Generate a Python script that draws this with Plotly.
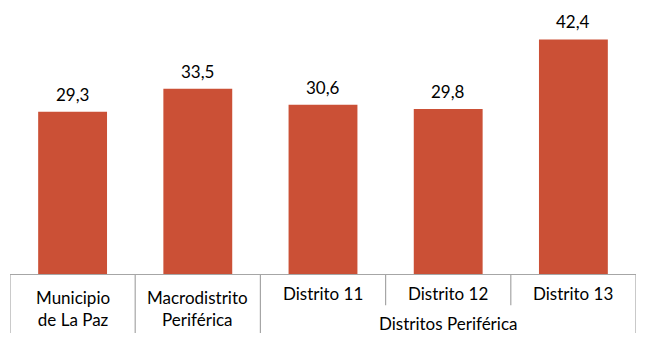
import plotly.graph_objects as go

categories = ["Municipio<br>de La Paz", "Macrodistrito<br>Periférica", "Distrito 11", "Distrito 12", "Distrito 13"]
values = [29.3, 33.5, 30.6, 29.8, 42.4]
group_label = "Distritos Periférica"
group_members = [2, 3, 4]

labels = [f"{v:.1f}".replace(".", ",") for v in values]
xs = list(range(len(values)))

FONT = "Lato, 'Open Sans', sans-serif"
BAR = "#CB5036"
LINE = "#A6A6A6"

fig = go.Figure(go.Bar(
    x=xs, y=values,
    marker=dict(color=BAR, line=dict(width=0)), cliponaxis=False, width=0.55,
))

shapes = []
for b in [-0.5, 0.5, 1.5, 4.5]:
    shapes.append(dict(type="line", xref="x", yref="paper", x0=b, x1=b, y0=0, y1=-0.237,
                       line=dict(color=LINE, width=1.2)))
for b in [2.5, 3.5]:
    shapes.append(dict(type="line", xref="x", yref="paper", x0=b, x1=b, y0=0, y1=-0.125,
                       line=dict(color=LINE, width=1.2)))

annotations = []
for i, (v, t) in enumerate(zip(values, labels)):
    annotations.append(dict(x=i, y=v, xref="x", yref="y", text=t, showarrow=False,
                            yanchor="bottom", yshift=5,
                            font=dict(size=17, family=FONT, color="#000000")))
for i, c in enumerate(categories):
    two = "<br>" in c
    annotations.append(dict(x=i, y=-0.137 if two else -0.08, xref="x", yref="paper", text=c,
                            showarrow=False, yanchor="middle", xanchor="center",
                            font=dict(size=17, family=FONT, color="#000000")))
annotations.append(dict(x=sum(group_members) / len(group_members), y=-0.197, xref="x", yref="paper",
                        text=group_label, showarrow=False, yanchor="middle",
                        font=dict(size=17, family=FONT, color="#000000")))

# page body has an 8px margin; compensate so the plot lands where the reference has it
fig.update_layout(
    width=637, height=347,
    margin=dict(l=2, r=9, t=17, b=81),
    paper_bgcolor="white", plot_bgcolor="white",
    showlegend=False,
    xaxis=dict(range=[-0.5, 4.5], showticklabels=False, showgrid=False, zeroline=False,
               showline=True, linecolor=LINE, linewidth=1.2, ticks=""),
    yaxis=dict(range=[0, 45], visible=False),
    shapes=shapes, annotations=annotations,
)

fig.write_html("out.html")
